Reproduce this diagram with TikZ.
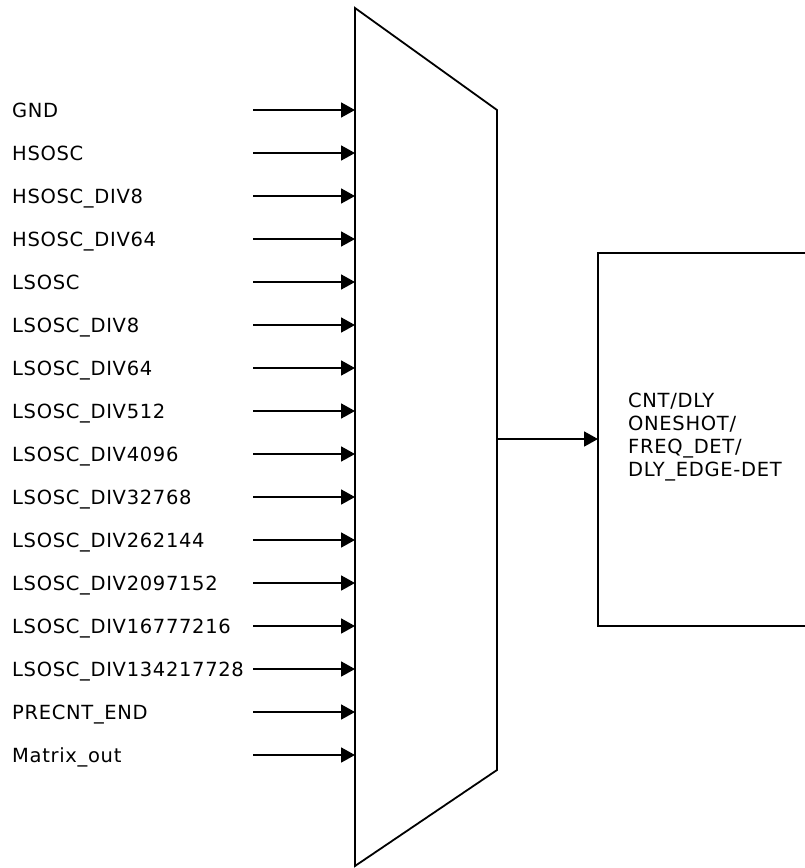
\documentclass[tikz,border=0pt]{standalone}
\usepackage{fontspec}
\setmainfont[LetterSpace=3.5]{DejaVu Sans}
\usetikzlibrary{arrows.meta}
\begin{document}
\begin{tikzpicture}[x=1pt,y=-1pt,
  wire/.style={line width=1.8pt,-{Triangle[length=14pt,width=15pt]}},
  sig/.style={anchor=base west,inner sep=0pt,font=\fontsize{19.5}{23}\selectfont},
  blk/.style={line width=1.8pt}]
\useasboundingbox (0,0) rectangle (804,868);
% mux outline
\coordinate (mTL) at (355,8);
\coordinate (mTR) at (497,110);
\coordinate (mBR) at (497,770);
\coordinate (mBL) at (355,866);
\draw[blk,line join=miter] (mTL) -- (mTR) -- (mBR) -- (mBL) -- cycle;
% inputs
\foreach \lab [count=\i from 0] in {GND,HSOSC,HSOSC\_DIV8,HSOSC\_DIV64,LSOSC,LSOSC\_DIV8,LSOSC\_DIV64,LSOSC\_DIV512,LSOSC\_DIV4096,LSOSC\_DIV32768,LSOSC\_DIV262144,LSOSC\_DIV2097152,LSOSC\_DIV16777216,LSOSC\_DIV134217728,PRECNT\_END,Matrix\_out}{
  \pgfmathsetmacro{\yy}{110+43*\i}
  \node[sig] (l\i) at (12,\yy+7) {\lab};
  \coordinate (s\i) at (253,\yy);
  \coordinate (p\i) at (355,\yy);
  \draw[wire] (s\i) -- (p\i);
}
% output block
\draw[blk] (812,253) -- (598,253) -- (598,626) -- (812,626);
\coordinate (bin) at (598,439);
\coordinate (mout) at (497,439);
\draw[wire] (mout) -- (bin);
\node[sig,anchor=west,align=left] (txt) at (628,437) {CNT/DLY\\ONESHOT/\\FREQ\_DET/\\DLY\_EDGE-DET};
\end{tikzpicture}
\end{document}
